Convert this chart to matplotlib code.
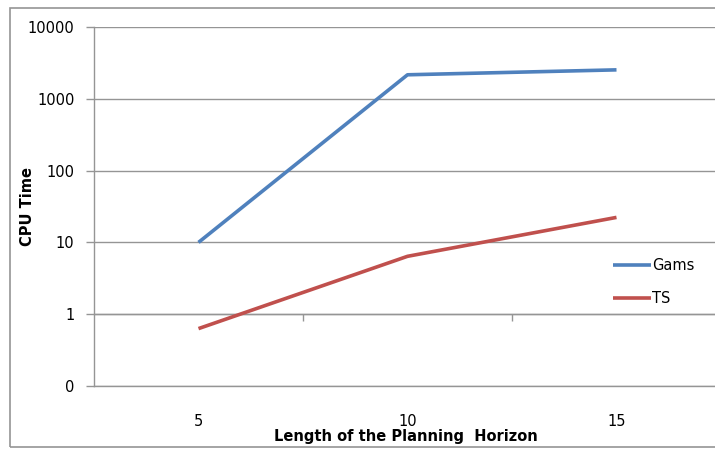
import matplotlib.pyplot as plt
from matplotlib.patches import Rectangle

# data
horizons = ["5", "10", "15"]
gams = [10, 2160, 2530]
ts = [0.63, 6.4, 22.3]
yticks = [0.1, 1, 10, 100, 1000, 10000]
yticklabels = ["0", "1", "10", "100", "1000", "10000"]

grid = "#959595"
blue = "#4f81bd"
red = "#c0504d"

plt.rcParams["font.family"] = ["DejaVu Sans"]

W, H = 715, 449
fig = plt.figure(figsize=(W / 100, H / 100), dpi=100)

# outer chart border (Excel style)
fig.patches.append(Rectangle((10 / W, 2 / H), 1.2, 439 / H, transform=fig.transFigure,
                             fill=False, edgecolor=grid, linewidth=1.2))

left, right, top, bottom = 94, 721, 27, 386
ax = fig.add_axes([left / W, 1 - bottom / H, (right - left) / W, (bottom - top) / H])

xs = range(1, len(horizons) + 1)
ax.plot(xs, gams, color=blue, linewidth=2.6, label="Gams", solid_capstyle="butt")
ax.plot(xs, ts, color=red, linewidth=2.6, label="TS", solid_capstyle="butt")

ax.set_yscale("log")
ax.set_ylim(0.1, 10000)
ax.set_xlim(0.5, 3.5)
ax.set_yticks(yticks)
ax.set_yticklabels(yticklabels)
ax.minorticks_off()
ax.yaxis.grid(True, color=grid, linewidth=1.0)
ax.set_axisbelow(True)

ax.set_xticks(list(xs))
ax.set_xticklabels(horizons)
ax.tick_params(axis="x", length=0, pad=20, labelsize=10.5)
ax.tick_params(axis="y", length=6, color=grid, width=1.0, pad=8, labelsize=10.5)

for s in ["top", "right"]:
    ax.spines[s].set_visible(False)
ax.spines["left"].set_color(grid)
ax.spines["left"].set_linewidth(1.0)
ax.spines["bottom"].set_color(grid)
ax.spines["bottom"].set_linewidth(1.0)

# category axis crosses the value axis at 1
sec = ax.secondary_xaxis(0.2)
sec.set_xticks([1.5, 2.5])
sec.set_xticklabels(["", ""])
sec.tick_params(length=5, color=grid, width=1.0)
sec.spines["bottom"].set_color(grid)
sec.spines["bottom"].set_linewidth(1.0)

fig.text(406 / W, 1 - 436 / H, "Length of the Planning  Horizon", ha="center", va="center",
         fontsize=10.5, fontweight="bold")
fig.text(28 / W, 1 - 206 / H, "CPU Time", ha="center", va="center", rotation=90,
         fontsize=10.5, fontweight="bold")

leg = ax.legend(loc="center left", bbox_to_anchor=(600 / W, 1 - 282 / H),
                bbox_transform=fig.transFigure, frameon=False, fontsize=10.5,
                handlelength=2.6, handletextpad=0.1, labelspacing=1.2)

fig.savefig("out.png", dpi=100)
